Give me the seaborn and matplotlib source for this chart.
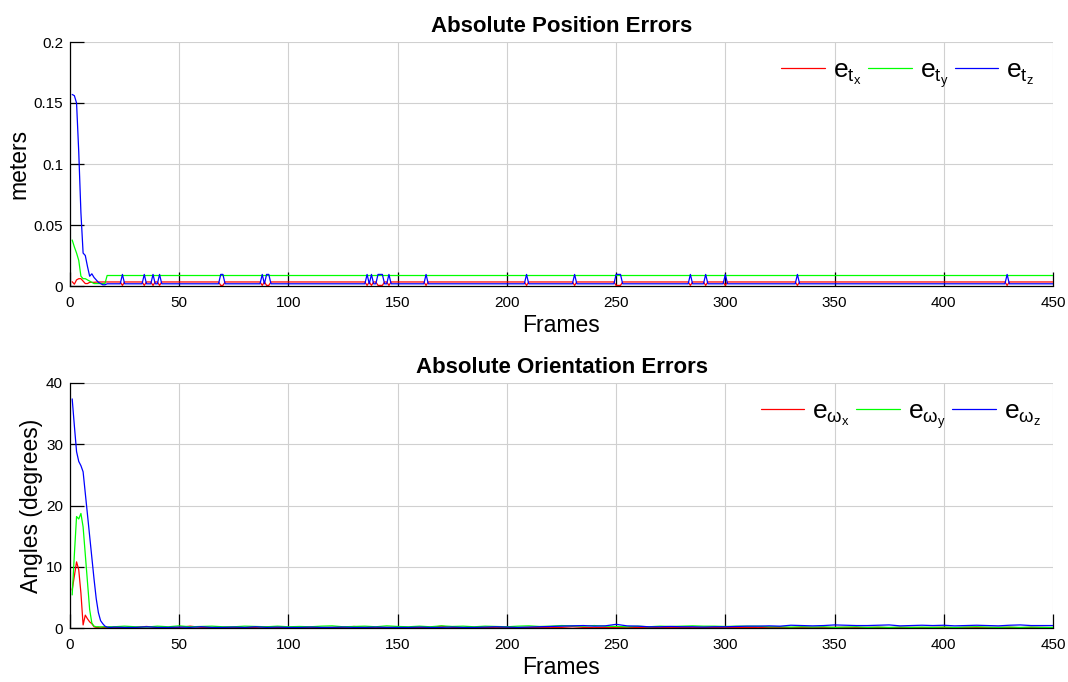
import numpy as np
import pandas as pd
import matplotlib
matplotlib.use("Agg")
import matplotlib.pyplot as plt
import seaborn as sns

# ---------------- position errors (meters) ----------------
pos_start_frames = list(range(1, 17))
ex_start = [0.0035, 0.0015, 0.0050, 0.0060, 0.0060, 0.0040, 0.0020, 0.0020,
            0.0030, 0.0030, 0.0030, 0.0032, 0.0033, 0.0033, 0.0033, 0.0033]
ey_start = [0.0377, 0.0320, 0.0270, 0.0210, 0.0080, 0.0060, 0.0060, 0.0050,
            0.0040, 0.0030, 0.0020, 0.0020, 0.0020, 0.0020, 0.0020, 0.0020]
ez_start = [0.157, 0.156, 0.150, 0.110, 0.060, 0.027, 0.025, 0.016,
            0.008, 0.010, 0.007, 0.005, 0.003, 0.002, 0.001, 0.001]

# steady-state levels from frame 17 on
ex_level = 0.0033
ey_level = 0.0086
ez_level = 0.0018
# short jumps of e_tz (and matching dips of e_tx)
ez_spike_frames = [24, 34, 38, 41, 69, 70, 88, 90, 91, 136, 138, 141, 142, 143,
                   146, 163, 209, 231, 250, 251, 252, 284, 291, 300, 333, 429]
ez_spike_value = 0.0095
ex_dip_value = 0.0005

# ---------------- orientation errors (degrees) ----------------
ori_start_frames = list(range(1, 20))
wx_start = [6.2, 8.5, 10.8, 9.5, 5.7, 0.5, 2.1, 1.5, 1.0, 0.7,
            0.2, 0.1, 0.1, 0.15, 0.1, 0.1, 0.1, 0.15, 0.1]
wy_start = [5.4, 12.0, 18.2, 17.8, 18.7, 16.5, 12.0, 7.5, 3.0, 0.8,
            0.3, 0.2, 0.2, 0.15, 0.2, 0.2, 0.15, 0.2, 0.2]
wz_start = [37.4, 33.0, 28.8, 27.2, 26.5, 25.5, 22.0, 18.5, 15.0, 11.5,
            8.0, 4.8, 2.5, 1.2, 0.7, 0.3, 0.15, 0.1, 0.1]

ori_tail_frames = list(range(20, 451, 5))
wx_tail = [0.1, 0.05, 0.1, 0.25, 0.1, 0.05, 0.1, 0.3, 0.1, 0.05, 0.1, 0.1, 0.05, 0.1, 0.2, 0.1,
           0.05, 0.1, 0.1, 0.05, 0.1, 0.1, 0.25, 0.1, 0.05, 0.1, 0.1, 0.05, 0.1, 0.1, 0.3, 0.1, 0.05, 0.1, 0.1, 0.05,
           0.1, 0.05, 0.1, 0.1, 0.05, 0.1, 0.2, 0.1, 0.05, 0.1, 0.1, 0.05, 0.1, 0.1, 0.05, 0.1, 0.1, 0.05, 0.1, 0.1,
           0.05, 0.1, 0.1, 0.05, 0.1, 0.1, 0.05, 0.1, 0.1, 0.05, 0.1, 0.1, 0.05, 0.1, 0.1, 0.05, 0.1, 0.1, 0.05, 0.1,
           0.1, 0.05, 0.1, 0.1, 0.05, 0.1, 0.1, 0.05, 0.1, 0.1, 0.05]
wy_tail = [0.2, 0.3, 0.2, 0.15, 0.3, 0.2, 0.35, 0.2, 0.25, 0.3, 0.2, 0.2, 0.3, 0.25, 0.2, 0.3,
           0.2, 0.25, 0.2, 0.3, 0.35, 0.2, 0.25, 0.3, 0.2, 0.35, 0.25, 0.2, 0.3, 0.2, 0.35, 0.25, 0.3, 0.2, 0.3, 0.25,
           0.2, 0.3, 0.35, 0.25, 0.3, 0.4, 0.35, 0.3, 0.4, 0.3, 0.25, 0.2, 0.3, 0.2, 0.3, 0.25, 0.3, 0.35, 0.3, 0.3,
           0.25, 0.3, 0.3, 0.3, 0.2, 0.2, 0.15, 0.2, 0.15, 0.2, 0.1, 0.15, 0.2, 0.1, 0.15, 0.1, 0.15, 0.1, 0.15, 0.1,
           0.15, 0.1, 0.15, 0.2, 0.15, 0.1, 0.15, 0.1, 0.15, 0.1, 0.1]
wz_tail = [0.15, 0.1, 0.1, 0.2, 0.1, 0.1, 0.15, 0.1, 0.2, 0.1, 0.1, 0.15, 0.1, 0.2, 0.1, 0.15,
           0.1, 0.1, 0.15, 0.1, 0.1, 0.15, 0.1, 0.1, 0.15, 0.1, 0.1, 0.1, 0.15, 0.1, 0.1, 0.15, 0.1, 0.1, 0.15, 0.2,
           0.15, 0.1, 0.15, 0.2, 0.25, 0.3, 0.35, 0.4, 0.3, 0.35, 0.6, 0.35, 0.3, 0.2, 0.2, 0.25, 0.2, 0.2, 0.15, 0.2,
           0.2, 0.25, 0.3, 0.3, 0.35, 0.3, 0.45, 0.4, 0.35, 0.4, 0.5, 0.45, 0.4, 0.4, 0.45, 0.5, 0.35, 0.4, 0.45, 0.4,
           0.45, 0.35, 0.4, 0.45, 0.4, 0.35, 0.45, 0.5, 0.4, 0.4, 0.4]

pos_labels = [r"$\mathregular{e_{t_x}}$", r"$\mathregular{e_{t_y}}$", r"$\mathregular{e_{t_z}}$"]
ori_labels = [r"$\mathregular{e_{\omega_x}}$", r"$\mathregular{e_{\omega_y}}$", r"$\mathregular{e_{\omega_z}}$"]
colors = ["#ff0000", "#00ff00", "#0000ff"]

# ---------------- assemble series ----------------
n_last = 450
tail_frames = np.arange(17, n_last + 1)
ex_tail = np.full(tail_frames.size, ex_level)
ey_tail = np.full(tail_frames.size, ey_level)
ez_tail = np.full(tail_frames.size, ez_level)
for f in ez_spike_frames:
    ez_tail[f - 17] = ez_spike_value
    ex_tail[f - 17] = ex_dip_value

pos_frames = np.concatenate([pos_start_frames, tail_frames])
pos_df = pd.concat([
    pd.DataFrame({"frame": pos_frames, "err": np.concatenate([ex_start, ex_tail]), "comp": pos_labels[0]}),
    pd.DataFrame({"frame": pos_frames, "err": np.concatenate([ey_start, ey_tail]), "comp": pos_labels[1]}),
    pd.DataFrame({"frame": pos_frames, "err": np.concatenate([ez_start, ez_tail]), "comp": pos_labels[2]}),
], ignore_index=True)

ori_frames = np.concatenate([ori_start_frames, ori_tail_frames])
ori_df = pd.concat([
    pd.DataFrame({"frame": ori_frames, "err": np.concatenate([wx_start, wx_tail]), "comp": ori_labels[0]}),
    pd.DataFrame({"frame": ori_frames, "err": np.concatenate([wy_start, wy_tail]), "comp": ori_labels[1]}),
    pd.DataFrame({"frame": ori_frames, "err": np.concatenate([wz_start, wz_tail]), "comp": ori_labels[2]}),
], ignore_index=True)

# ---------------- style ----------------
sns.set_theme(style="white")
plt.rcParams["font.family"] = ["Liberation Sans", "DejaVu Sans"]
plt.rcParams["mathtext.fontset"] = "custom"
plt.rcParams["mathtext.rm"] = "Liberation Sans"
plt.rcParams["mathtext.it"] = "Liberation Sans:italic"
for key in ("text.color", "axes.labelcolor", "xtick.color", "ytick.color"):
    plt.rcParams[key] = "black"

fig = plt.figure(figsize=(10.68, 6.82), dpi=100)
ax1 = fig.add_axes([70 / 1068, 1 - 286 / 682, 983 / 1068, 244 / 682])
ax2 = fig.add_axes([70 / 1068, 1 - 628 / 682, 983 / 1068, 245 / 682])


def style_axes(ax, yticks, ytick_labels, ylabel, title, legend_x):
    ax.set_xlim(0, 450)
    ax.set_ylim(yticks[0], yticks[-1])
    ax.set_xticks(range(0, 451, 50))
    ax.set_yticks(yticks)
    ax.set_yticklabels(ytick_labels)
    ax.grid(True, color="#d0d0d0", linewidth=0.8)
    ax.set_axisbelow(True)
    for side in ("top", "right"):
        ax.spines[side].set_visible(False)
    for side in ("left", "bottom"):
        ax.spines[side].set_color("black")
        ax.spines[side].set_linewidth(0.9)
    ax.tick_params(direction="in", length=10, width=0.9, colors="black",
                   labelsize=11, left=True, bottom=True)
    ax.tick_params(axis="x", pad=7)
    ax.tick_params(axis="y", pad=5)
    ax.set_xlabel("Frames", fontsize=16.5, labelpad=3)
    ax.set_ylabel(ylabel, fontsize=16.5, labelpad=2)
    ax.set_title(title, fontsize=16, fontweight="bold", pad=7)
    ax.legend(ncol=3, loc="upper right", bbox_to_anchor=(legend_x, 1.03), frameon=False,
              fontsize=19, handlelength=1.65, handletextpad=0.3, columnspacing=0.25)


sns.lineplot(data=pos_df, x="frame", y="err", hue="comp", palette=colors,
             linewidth=0.9, ax=ax1, estimator=None, sort=False)
style_axes(ax1, [0, 0.05, 0.1, 0.15, 0.2], ["0", "0.05", "0.1", "0.15", "0.2"],
           "meters", "Absolute Position Errors", 1.005)

sns.lineplot(data=ori_df, x="frame", y="err", hue="comp", palette=colors,
             linewidth=0.9, ax=ax2, estimator=None, sort=False)
style_axes(ax2, [0, 10, 20, 30, 40], ["0", "10", "20", "30", "40"],
           "Angles (degrees)", "Absolute Orientation Errors", 1.012)

fig.savefig("out.png", dpi=100)
